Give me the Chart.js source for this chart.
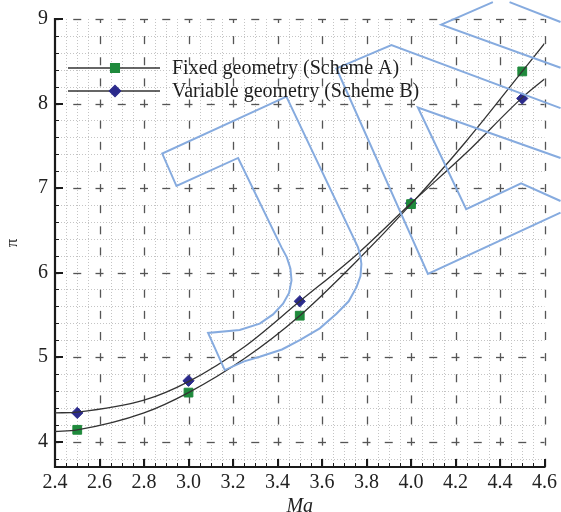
<!DOCTYPE html>
<html>
<head>
<meta charset="utf-8">
<script src="https://cdn.jsdelivr.net/npm/chart.js@4.4.1/dist/chart.umd.min.js"></script>
<style>
    html, body { margin: 0; padding: 0; background: #fff; }
    #wrap { width: 561px; height: 512px; }
</style>
</head>
<body>
<div id="wrap"><canvas id="myChart"></canvas></div>
<script>
// measured points (markers)
const machPoints = [2.5, 3.0, 3.5, 4.0, 4.5];
const piFixed = [4.14, 4.58, 5.49, 6.81, 8.38];
const piVariable = [4.34, 4.72, 5.66, 6.82, 8.06];

// fitted curves
const curveMach = [2.4, 2.5, 2.8, 3.0, 3.25, 3.5, 3.75, 4.0, 4.25, 4.5, 4.6];
const curveFixed = [4.12, 4.14, 4.34, 4.58, 4.98, 5.49, 6.12, 6.81, 7.56, 8.38, 8.71];
const curveVariable = [4.34, 4.35, 4.49, 4.71, 5.12, 5.66, 6.20, 6.82, 7.42, 8.07, 8.29];

const seriesNames = ['Fixed geometry (Scheme A)', 'Variable geometry (Scheme B)'];
const xTicks = [2.4, 2.6, 2.8, 3.0, 3.2, 3.4, 3.6, 3.8, 4.0, 4.2, 4.4, 4.6];
const yTicks = [4, 5, 6, 7, 8, 9];

// blue stamp outline behind the plot (x = Ma, y = pi)
const stampJx = [3.440, 2.882, 2.946, 3.223, 3.418, 3.442, 3.458, 3.463, 3.452, 3.425, 3.380, 3.320, 3.230, 3.088, 3.163, 3.250, 3.320, 3.420, 3.500, 3.590, 3.665, 3.720, 3.755, 3.773, 3.777, 3.772, 3.762, 3.440];
const stampJy = [8.082, 7.408, 7.024, 7.356, 6.298, 6.180, 6.050, 5.906, 5.760, 5.632, 5.505, 5.396, 5.320, 5.286, 4.847, 4.950, 5.004, 5.090, 5.200, 5.340, 5.514, 5.660, 5.827, 5.960, 6.102, 6.200, 6.298, 8.082];
const stampOuterX = [4.672, 3.912, 3.665, 4.076, 4.672];
const stampOuterY = [7.945, 8.691, 8.415, 5.985, 6.709];
const stampInnerX = [4.672, 4.031, 4.248, 4.495, 4.672];
const stampInnerY = [7.356, 7.953, 6.749, 7.055, 6.847];
const stampTopX = [4.368, 4.136, 4.672];
const stampTopY = [9.2, 8.933, 8.424];
const stampEdgeX = [4.672, 4.443];
const stampEdgeY = [8.965, 9.2];

const serif = "'Liberation Serif', 'Times New Roman', serif";
const green = '#1f8a3c';
const navy = '#2b2a8c';
const curveColor = '#333333';
const stampColor = '#86abdf';

function toPoints(xs, ys) {
    return xs.map((x, i) => ({ x: x, y: ys[i] }));
}

function stamp(xs, ys) {
    return {
        data: toPoints(xs, ys),
        showLine: true,
        pointRadius: 0,
        borderColor: stampColor,
        borderWidth: 2,
        clip: false
    };
}

const gridPlugin = {
    id: 'gridPlugin',
    beforeDatasetsDraw(chart) {
        const ctx = chart.ctx;
        const a = chart.chartArea;
        const x = chart.scales.x;
        const y = chart.scales.y;
        ctx.save();

        // minor dotted grid
        ctx.strokeStyle = '#c4c4c4';
        ctx.lineWidth = 1;
        ctx.setLineDash([1, 2]);
        for (let i = 1; i < 44; i++) {
            if (i % 4 === 0) continue;
            const px = Math.round(x.getPixelForValue(2.4 + i * 0.05)) + 0.5;
            ctx.beginPath(); ctx.moveTo(px, a.top); ctx.lineTo(px, a.bottom); ctx.stroke();
        }
        for (let i = 0; i < 27; i++) {
            const v = 3.8 + i * 0.2;
            if (Math.abs(v - Math.round(v)) < 0.01) continue;
            const py = Math.round(y.getPixelForValue(v)) + 0.5;
            ctx.beginPath(); ctx.moveTo(a.left, py); ctx.lineTo(a.right, py); ctx.stroke();
        }

        // major dashed grid
        ctx.setLineDash([]);
        ctx.strokeStyle = '#555555';
        ctx.lineWidth = 1.3;
        yTicks.forEach(v => {
            const py = Math.round(y.getPixelForValue(v)) + 0.5;
            for (let k = 0; k <= 22; k++) {
                const cx = x.getPixelForValue(2.4 + k * 0.1);
                ctx.beginPath();
                ctx.moveTo(Math.max(a.left, cx - 4), py);
                ctx.lineTo(Math.min(a.right, cx + 4), py);
                ctx.stroke();
            }
        });
        xTicks.slice(1).forEach(v => {
            const px = Math.round(x.getPixelForValue(v)) + 0.5;
            for (let k = 0; k <= 21; k++) {
                const cy = y.getPixelForValue(3.75 + k * 0.25);
                ctx.beginPath();
                ctx.moveTo(px, Math.min(a.bottom, cy + 4));
                ctx.lineTo(px, Math.max(a.top, cy - 4));
                ctx.stroke();
            }
        });

        // axes and inward ticks
        ctx.strokeStyle = '#1a1a1a';
        ctx.lineWidth = 2.2;
        ctx.beginPath();
        ctx.moveTo(a.left, a.top - 1);
        ctx.lineTo(a.left, a.bottom);
        ctx.lineTo(a.right + 1, a.bottom);
        ctx.stroke();

        ctx.lineWidth = 2;
        yTicks.forEach(v => {
            const py = Math.round(y.getPixelForValue(v));
            ctx.beginPath(); ctx.moveTo(a.left, py); ctx.lineTo(a.left + 8, py); ctx.stroke();
        });
        xTicks.forEach(v => {
            const px = Math.round(x.getPixelForValue(v));
            ctx.beginPath(); ctx.moveTo(px, a.bottom); ctx.lineTo(px, a.bottom - 8); ctx.stroke();
        });
        ctx.lineWidth = 1;
        for (let i = 0; i < 27; i++) {
            const py = Math.round(y.getPixelForValue(3.8 + i * 0.2)) + 0.5;
            ctx.beginPath(); ctx.moveTo(a.left, py); ctx.lineTo(a.left + 4, py); ctx.stroke();
        }
        for (let i = 1; i < 44; i++) {
            const px = Math.round(x.getPixelForValue(2.4 + i * 0.05)) + 0.5;
            ctx.beginPath(); ctx.moveTo(px, a.bottom); ctx.lineTo(px, a.bottom - 4); ctx.stroke();
        }
        ctx.restore();
    }
};

const legendPlugin = {
    id: 'legendPlugin',
    afterDatasetsDraw(chart) {
        const ctx = chart.ctx;
        const items = chart.data.datasets.filter(d => d.label);
        ctx.save();
        items.forEach((d, i) => {
            const yy = 68 + i * 23;
            ctx.strokeStyle = curveColor;
            ctx.lineWidth = 1.3;
            ctx.beginPath(); ctx.moveTo(68, yy); ctx.lineTo(160, yy); ctx.stroke();
            ctx.fillStyle = d.backgroundColor;
            ctx.strokeStyle = d.borderColor;
            Chart.helpers.drawPoint(ctx, {
                pointStyle: d.pointStyle, radius: d.pointRadius, rotation: 0, borderWidth: 1
            }, 115, yy);
            ctx.fillStyle = '#1e1e1e';
            ctx.font = '20px ' + serif;
            ctx.textBaseline = 'middle';
            ctx.fillText(d.label, 172, yy + 1);
        });
        ctx.restore();
    }
};

const ctx = document.getElementById('myChart');

new Chart(ctx, {
    type: 'scatter',
    data: {
        datasets: [
            stamp(stampJx, stampJy),
            stamp(stampOuterX, stampOuterY),
            stamp(stampInnerX, stampInnerY),
            stamp(stampTopX, stampTopY),
            stamp(stampEdgeX, stampEdgeY),
            {
                data: toPoints(curveMach, curveFixed),
                showLine: true,
                pointRadius: 0,
                borderColor: curveColor,
                borderWidth: 1.3,
                cubicInterpolationMode: 'monotone'
            },
            {
                data: toPoints(curveMach, curveVariable),
                showLine: true,
                pointRadius: 0,
                borderColor: curveColor,
                borderWidth: 1.3,
                cubicInterpolationMode: 'monotone'
            },
            {
                label: seriesNames[0],
                data: toPoints(machPoints, piFixed),
                pointStyle: 'rect',
                pointRadius: 6.2,
                backgroundColor: green,
                borderColor: green
            },
            {
                label: seriesNames[1],
                data: toPoints(machPoints, piVariable),
                pointStyle: 'rectRot',
                pointRadius: 5.6,
                backgroundColor: navy,
                borderColor: navy
            }
        ]
    },
    options: {
        responsive: true,
        maintainAspectRatio: false,
        animation: false,
        layout: { padding: { top: 17, right: 16, left: 0, bottom: 0 } },
        plugins: {
            legend: { display: false },
            tooltip: { enabled: false }
        },
        scales: {
            x: {
                type: 'linear',
                min: 2.4,
                max: 4.6,
                afterBuildTicks: s => { s.ticks = xTicks.map(v => ({ value: v })); },
                afterFit: s => { s.height = 45; },
                ticks: {
                    callback: v => v.toFixed(1),
                    font: { family: serif, size: 20 },
                    color: '#222',
                    padding: 4,
                    maxRotation: 0,
                    autoSkip: false
                },
                grid: { display: false, drawTicks: false },
                border: { display: false },
                title: {
                    display: true,
                    text: 'Ma',
                    font: { family: serif, size: 20, style: 'italic' },
                    color: '#222',
                    padding: { top: 0, bottom: -7 }
                }
            },
            y: {
                type: 'linear',
                min: 3.7,
                max: 9,
                afterBuildTicks: s => { s.ticks = yTicks.map(v => ({ value: v })); },
                afterFit: s => { s.width = 55; },
                ticks: {
                    callback: v => String(v),
                    font: { family: serif, size: 20 },
                    color: '#222',
                    padding: 7
                },
                grid: { display: false, drawTicks: false },
                border: { display: false },
                title: {
                    display: true,
                    text: 'π',
                    font: { family: serif, size: 17 },
                    color: '#222',
                    padding: { top: 2, bottom: 0 }
                }
            }
        }
    },
    plugins: [gridPlugin, legendPlugin]
});
</script>
</body>
</html>
